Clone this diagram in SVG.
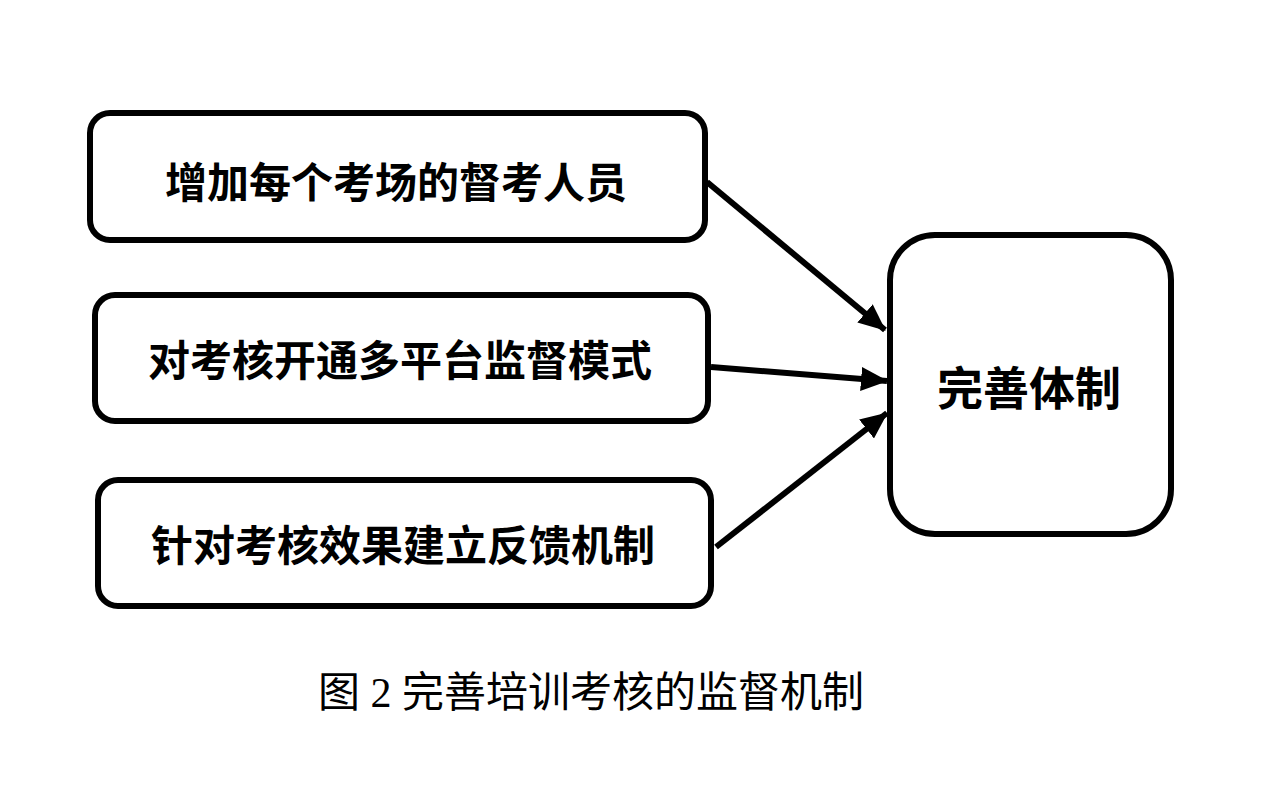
<svg xmlns="http://www.w3.org/2000/svg" width="1287" height="789" viewBox="0 0 1287 789">
<style>
.box{fill:#fff;stroke:#000;stroke-width:6}
.lbl{font-family:"Noto Sans CJK SC","Noto Sans",sans-serif;font-weight:bold;font-size:42px;fill:#000;text-anchor:middle;dominant-baseline:central}
.cap{font-family:"Liberation Serif","Noto Sans CJK SC",serif;font-size:42px;fill:#000;text-anchor:middle;white-space:pre}
.edge{stroke:#000;stroke-width:6;fill:none}
</style>
<defs>
<marker id="ah" markerUnits="userSpaceOnUse" markerWidth="28" markerHeight="24" refX="26" refY="12" orient="auto">
<path d="M0,0 L27,12 L0,24 z" fill="#000"/>
</marker>
</defs>
<rect width="1287" height="789" fill="#fff"/>
<g id="connectors">
<line class="edge" x1="707" y1="182" x2="885" y2="330" marker-end="url(#ah)"/>
<line class="edge" x1="711" y1="367" x2="887" y2="381" marker-end="url(#ah)"/>
<line class="edge" x1="716" y1="547" x2="887" y2="413" marker-end="url(#ah)"/>
</g>
<g id="n1">
<rect class="box" x="90" y="113" width="615" height="127" rx="20"/>
<text class="lbl" x="396" y="179">增加每个考场的督考人员</text>
</g>
<g id="n2">
<rect class="box" x="95" y="295" width="613" height="126" rx="20"/>
<text class="lbl" x="400" y="357">对考核开通多平台监督模式</text>
</g>
<g id="n3">
<rect class="box" x="98" y="480" width="613" height="126" rx="20"/>
<text class="lbl" x="403" y="542">针对考核效果建立反馈机制</text>
</g>
<g id="n4">
<rect class="box" x="890" y="235" width="281" height="299" rx="45"/>
<text class="lbl" x="1029" y="385" style="font-size:46px">完善体制</text>
</g>
<g id="caption">
<text class="cap" x="591" y="707">图 2 完善培训考核的监督机制</text>
</g>
</svg>
